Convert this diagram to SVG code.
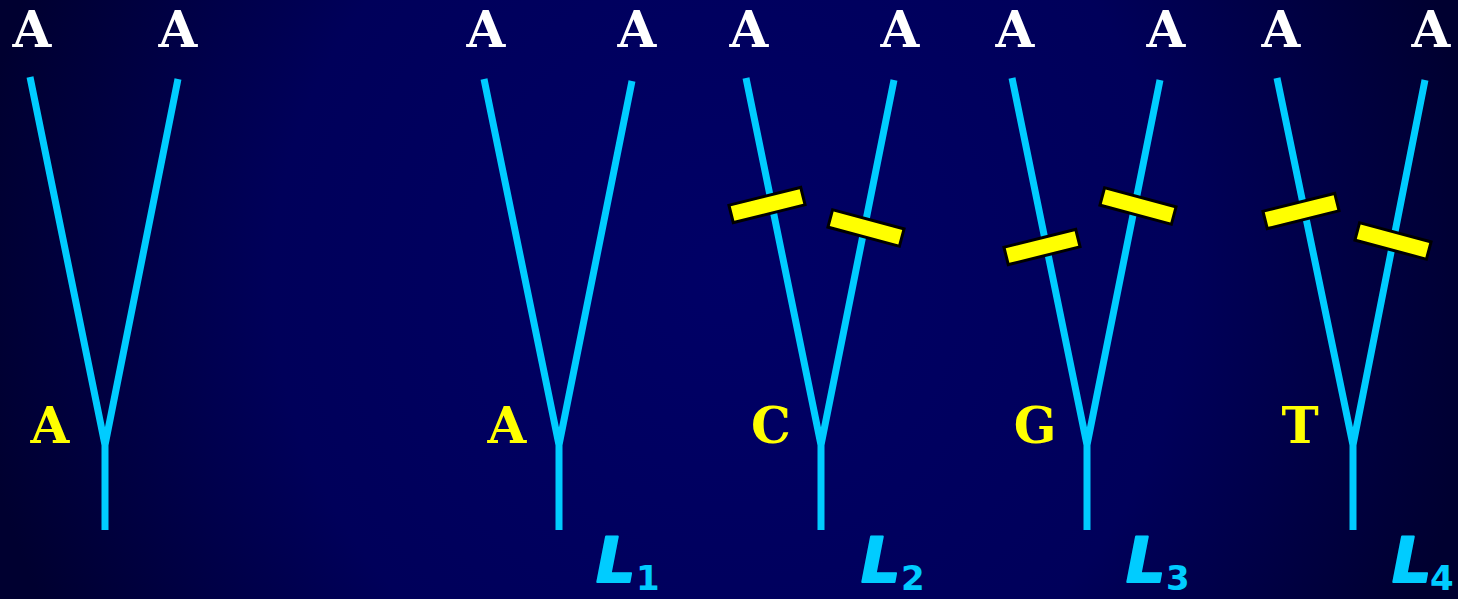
<svg xmlns="http://www.w3.org/2000/svg" width="1458" height="599" viewBox="0 0 1458 599">
<defs>
<radialGradient id="bg" cx="729" cy="280" r="760" gradientUnits="userSpaceOnUse">
<stop offset="0" stop-color="#000066"/>
<stop offset="0.6" stop-color="#00005a"/>
<stop offset="1" stop-color="#000030"/>
</radialGradient>
<style>
.br{stroke:#00ccff;stroke-width:7;fill:none}
.top{font-family:"DejaVu Serif",serif;font-weight:bold;font-size:50px;fill:#ffffff;text-anchor:middle}
.anc{font-family:"DejaVu Serif",serif;font-weight:bold;font-size:50px;fill:#ffff00;text-anchor:middle}
.bar{fill:#ffff00;stroke:#000000;stroke-width:3}
.L{font-family:"DejaVu Sans",sans-serif;font-style:italic;font-weight:bold;font-size:62px;fill:#00ccff;stroke:#00ccff;stroke-width:2;stroke-linejoin:round}
.sub{font-family:"DejaVu Sans",sans-serif;font-weight:bold;font-size:34px;fill:#00ccff}
</style>
</defs>
<rect width="1458" height="599" fill="url(#bg)"/>
<g id="connectors">
<path class="br" d="M30,77 L105,445 L178,79 M105,445 L105,530"/>
<path class="br" d="M484,79 L559,445 L632,81 M559,445 L559,530"/>
<path class="br" d="M746,78 L821,445 L894,80 M821,445 L821,530"/>
<path class="br" d="M1012,78 L1087,445 L1160,80 M1087,445 L1087,530"/>
<path class="br" d="M1277,78 L1353,445 L1425,80 M1353,445 L1353,530"/>
</g>
<g id="tree1">
<text class="top" x="32" y="47">A</text>
<text class="top" x="178" y="47">A</text>
<text class="anc" x="50" y="443">A</text>
</g>
<g id="tree2">
<text class="top" x="486" y="47">A</text>
<text class="top" x="637" y="47">A</text>
<text class="anc" x="507" y="443">A</text>
<text class="L" x="596" y="582">L</text><text class="sub" x="636" y="590">1</text>
</g>
<g id="tree3">
<text class="top" x="749" y="47">A</text>
<text class="top" x="900" y="47">A</text>
<text class="anc" x="771" y="443">C</text>
<rect class="bar" x="-37" y="-9" width="74" height="18" transform="translate(767,205) rotate(-14)"/>
<rect class="bar" x="-37" y="-9" width="74" height="18" transform="translate(866,228) rotate(15)"/>
<text class="L" x="861" y="582">L</text><text class="sub" x="901" y="590">2</text>
</g>
<g id="tree4">
<text class="top" x="1015" y="47">A</text>
<text class="top" x="1166" y="47">A</text>
<text class="anc" x="1035" y="443">G</text>
<rect class="bar" x="-37" y="-9" width="74" height="18" transform="translate(1042,247) rotate(-14)"/>
<rect class="bar" x="-37" y="-9" width="74" height="18" transform="translate(1138,206) rotate(15)"/>
<text class="L" x="1126" y="582">L</text><text class="sub" x="1166" y="590">3</text>
</g>
<g id="tree5">
<text class="top" x="1281" y="47">A</text>
<text class="top" x="1431" y="47">A</text>
<text class="anc" x="1300" y="443">T</text>
<rect class="bar" x="-37" y="-9" width="74" height="18" transform="translate(1301,211) rotate(-14)"/>
<rect class="bar" x="-37" y="-9" width="74" height="18" transform="translate(1393,241) rotate(15)"/>
<text class="L" x="1392" y="582">L</text><text class="sub" x="1430" y="590">4</text>
</g>
</svg>
